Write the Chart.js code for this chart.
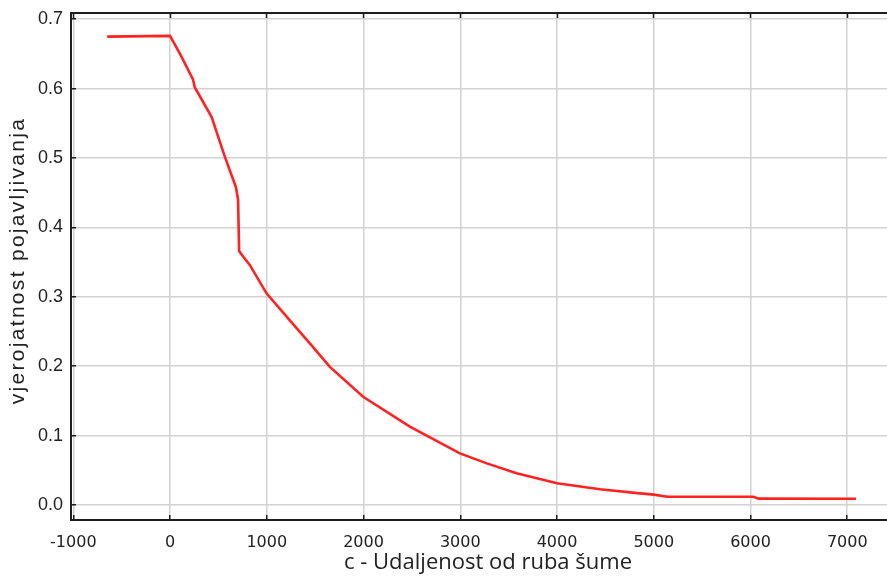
<!DOCTYPE html>
<html>
<head>
<meta charset="utf-8">
<script src="https://cdn.jsdelivr.net/npm/chart.js@4.4.1/dist/chart.umd.min.js"></script>
<style>
  html, body { margin: 0; padding: 0; background: #fff; }
  #wrap { width: 887px; height: 577px; position: relative; }
</style>
</head>
<body>
<div id="wrap"><canvas id="c"></canvas></div>
<script>
// Distance from forest edge (x) and probability of occurrence (y)
const distances = [-650, 0, 118, 238, 255, 430, 566, 681, 703, 714, 755, 824, 997, 1238, 1445, 1652, 1996, 2479, 2996, 3275, 3582, 4000, 4444, 4857, 5000, 5140, 6030, 6085, 7090];
const probabilities = [0.675, 0.676, 0.646, 0.613, 0.602, 0.559, 0.502, 0.458, 0.440, 0.366, 0.358, 0.346, 0.305, 0.266, 0.233, 0.199, 0.156, 0.113, 0.0744, 0.060, 0.0457, 0.0313, 0.0226, 0.0168, 0.0150, 0.0120, 0.0120, 0.0092, 0.0090];

const xTickValues = [-1000, 0, 1000, 2000, 3000, 4000, 5000, 6000, 7000];
const yTickValues = [0.0, 0.1, 0.2, 0.3, 0.4, 0.5, 0.6, 0.7];

const xTitle = 'c - Udaljenost od ruba šume';
const yTitle = 'vjerojatnost pojavljivanja';

const points = distances.map((d, i) => ({ x: d, y: probabilities[i] }));

const axisColor = '#1e1e1e';
const gridColor = '#d2d2d2';

const titleTweaks = {
  id: 'titleTweaks',
  beforeDraw(chart) {
    const ys = chart.scales.y, xs = chart.scales.x;
    if (ys && !ys._tw) {
      const o = ys.drawTitle;
      ys.drawTitle = function () { const c = this.ctx; c.save(); c.translate(0, -6); c.letterSpacing = '2.3px'; o.call(this); c.restore(); };
      ys._tw = true;
    }
    if (xs && !xs._tw) {
      const o = xs.drawTitle;
      xs.drawTitle = function () { const c = this.ctx; c.save(); c.translate(9, 0); o.call(this); c.restore(); };
      xs._tw = true;
    }
  }
};

new Chart(document.getElementById('c'), {
  type: 'line',
  data: {
    datasets: [{
      data: points,
      borderColor: '#ff2222',
      borderWidth: 2.6,
      pointRadius: 0,
      tension: 0,
      fill: false
    }]
  },
  plugins: [titleTweaks],
  options: {
    responsive: true,
    maintainAspectRatio: false,
    animation: false,
    layout: { padding: 0 },
    plugins: { legend: { display: false }, tooltip: { enabled: false } },
    scales: {
      x: {
        type: 'linear',
        position: 'bottom',
        min: -1024,
        max: 7411,
        afterBuildTicks: s => { s.ticks = xTickValues.map(v => ({ value: v })); },
        afterFit: s => { s.height = 57; s.paddingLeft = 0; s.paddingRight = 0; },
        ticks: {
          padding: 18.4,
          color: '#222',
          font: { family: 'DejaVu Sans', size: 16 },
          callback: v => String(v)
        },
        grid: { color: gridColor, lineWidth: 1.5, tickLength: -5, tickColor: axisColor, tickWidth: 1.5 },
        border: { display: true, color: axisColor, width: 2 },
        title: {
          display: true,
          text: xTitle,
          color: '#222',
          font: { family: 'Open Sans', size: 22 },
          padding: { top: 0, bottom: 1 }
        }
      },
      xTop: {
        type: 'linear',
        position: 'top',
        min: -1024,
        max: 7411,
        afterBuildTicks: s => { s.ticks = xTickValues.map(v => ({ value: v })); },
        afterFit: s => { s.height = 13; s.paddingLeft = 0; s.paddingRight = 0; },
        ticks: { display: false },
        grid: { drawOnChartArea: false, tickLength: -5, tickColor: axisColor, tickWidth: 1.5 },
        border: { display: true, color: axisColor, width: 2 }
      },
      y: {
        type: 'linear',
        position: 'left',
        min: -0.0216,
        max: 0.709,
        afterBuildTicks: s => { s.ticks = yTickValues.map(v => ({ value: v })); },
        afterFit: s => { s.width = 71; s.paddingTop = 0; s.paddingBottom = 0; },
        ticks: {
          padding: 13,
          color: '#222',
          font: { family: 'Liberation Sans', size: 18 },
          callback: v => Number(v).toFixed(1)
        },
        grid: { color: gridColor, lineWidth: 1.5, tickLength: -5, tickColor: axisColor, tickWidth: 1.5 },
        border: { display: true, color: axisColor, width: 2 },
        title: {
          display: true,
          text: yTitle,
          color: '#222',
          font: { family: 'Liberation Sans', size: 21 },
          padding: { top: 6, bottom: 0 }
        }
      }
    }
  }
});
</script>
</body>
</html>
